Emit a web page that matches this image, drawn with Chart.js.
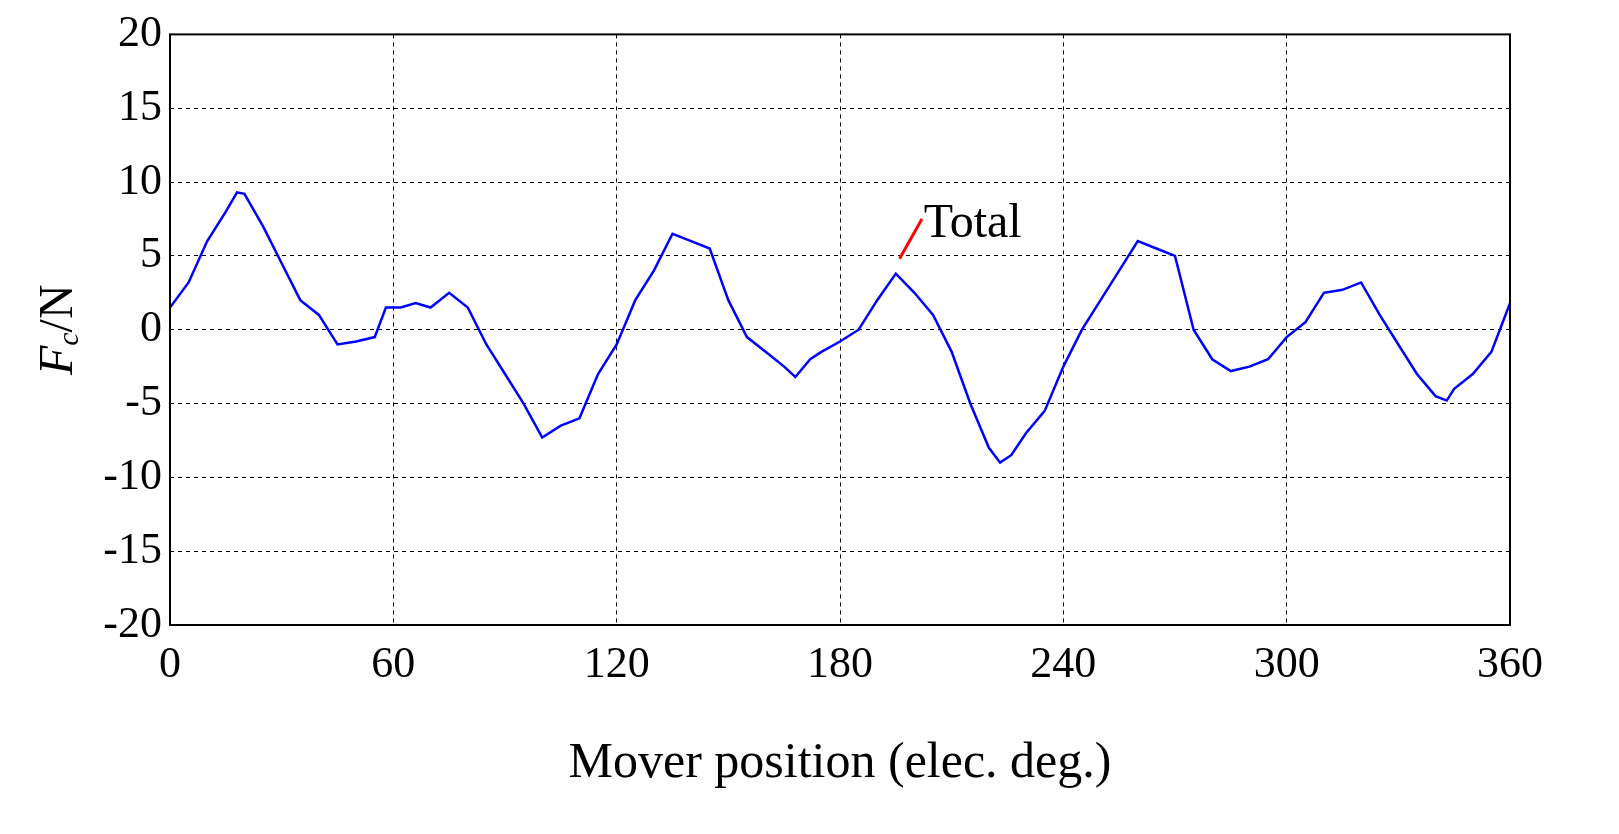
<!DOCTYPE html>
<html>
<head>
<meta charset="utf-8">
<script src="https://cdn.jsdelivr.net/npm/chart.js@4.4.1/dist/chart.umd.min.js"></script>
<style>
  html, body { margin: 0; padding: 0; background: #fff; }
  #wrap { width: 1619px; height: 834px; }
</style>
</head>
<body>
<div id="wrap"><canvas id="chart"></canvas></div>
<script>
// Mover position (elec. deg.) and total force Fc (N)
const positions = [0, 5, 10, 15, 18, 20, 25, 30, 35, 40, 45, 50, 55, 58, 62, 66, 70, 75, 80, 85,
  90, 95, 100, 105, 110, 115, 120, 125, 130, 135, 140, 145, 150, 155, 160, 165, 168, 172, 175, 180,
  185, 190, 195, 200, 205, 210, 215, 220, 223, 226, 230, 235, 240, 245, 250, 255, 260, 265, 270, 275,
  280, 285, 290, 295, 300, 305, 310, 315, 320, 325, 330, 335, 340, 343, 345, 350, 355, 360];
const totalForce = [1.5, 3.2, 6, 8, 9.3, 9.2, 7, 4.5, 2, 1, -1, -0.8, -0.5, 1.5, 1.5, 1.8, 1.5, 2.5, 1.5, -1,
  -3, -5, -7.3, -6.5, -6, -3, -1, 2, 4, 6.5, 6, 5.5, 2, -0.5, -1.5, -2.5, -3.2, -2, -1.5, -0.8,
  0, 2, 3.8, 2.5, 1, -1.5, -5, -8, -9, -8.5, -7, -5.5, -2.5, 0, 2, 4, 6, 5.5, 5, 0,
  -2, -2.8, -2.5, -2, -0.5, 0.5, 2.5, 2.7, 3.2, 1, -1, -3, -4.5, -4.8, -4, -3, -1.5, 1.8];
const xTicks = [0, 60, 120, 180, 240, 300, 360];
const yTicks = [-20, -15, -10, -5, 0, 5, 10, 15, 20];

const serif = '"Liberation Serif", "DejaVu Serif", serif';

const overlay = {
  id: 'overlay',
  afterDraw(chart) {
    const { ctx, chartArea, scales } = chart;
    ctx.save();
    // frame
    ctx.strokeStyle = '#000';
    ctx.lineWidth = 2;
    ctx.strokeRect(chartArea.left, chartArea.top, chartArea.right - chartArea.left, chartArea.bottom - chartArea.top);
    // "Total" label with red leader
    ctx.strokeStyle = '#ff0000';
    ctx.lineWidth = 3;
    ctx.beginPath();
    ctx.moveTo(scales.x.getPixelForValue(196), scales.y.getPixelForValue(4.8));
    ctx.lineTo(scales.x.getPixelForValue(202), scales.y.getPixelForValue(7.5));
    ctx.stroke();
    ctx.fillStyle = '#000';
    ctx.font = '48px ' + serif;
    ctx.textBaseline = 'alphabetic';
    ctx.fillText('Total', scales.x.getPixelForValue(202.5), scales.y.getPixelForValue(6.3));
    // y axis title  F_c/N
    ctx.translate(58, (chartArea.top + chartArea.bottom) / 2);
    ctx.rotate(-Math.PI / 2);
    ctx.font = 'italic 48px ' + serif;
    const wF = ctx.measureText('F').width;
    ctx.font = 'italic 30px ' + serif;
    const wc = ctx.measureText('c').width;
    ctx.font = '48px ' + serif;
    const wN = ctx.measureText('/N').width;
    const x0 = -(wF + wc + wN) / 2;
    ctx.font = 'italic 48px ' + serif;
    ctx.fillText('F', x0, 14);
    ctx.font = 'italic 30px ' + serif;
    ctx.fillText('c', x0 + wF, 20);
    ctx.font = '48px ' + serif;
    ctx.fillText('/N', x0 + wF + wc, 14);
    ctx.restore();
  }
};

new Chart(document.getElementById('chart'), {
  type: 'line',
  data: {
    datasets: [{
      data: positions.map((p, i) => ({ x: p, y: totalForce[i] })),
      borderColor: '#0000ff',
      borderWidth: 2.5,
      pointRadius: 0,
      tension: 0
    }]
  },
  options: {
    responsive: true,
    maintainAspectRatio: false,
    animation: false,
    layout: { padding: { top: 32, right: 109, left: 0, bottom: 40 } },
    plugins: { legend: { display: false }, tooltip: { enabled: false } },
    scales: {
      x: {
        type: 'linear', min: 0, max: 360,
        afterBuildTicks: (s) => { s.ticks = xTicks.map(v => ({ value: v })); },
        afterFit: (s) => { s.height = 169; },
        grid: { color: '#000', lineWidth: 1, drawTicks: false },
        border: { display: false, dash: [4, 4] },
        ticks: { color: '#000', font: { family: serif, size: 44 }, padding: 14, maxRotation: 0 },
        title: { display: true, text: 'Mover position (elec. deg.)', color: '#000',
          font: { family: serif, size: 50 }, padding: { top: 0, bottom: 0 } }
      },
      y: {
        type: 'linear', min: -20, max: 20,
        afterBuildTicks: (s) => { s.ticks = yTicks.map(v => ({ value: v })); },
        afterFit: (s) => { s.width = 170; },
        grid: { color: '#000', lineWidth: 1, drawTicks: false },
        border: { display: false, dash: [4, 4] },
        ticks: { color: '#000', font: { family: serif, size: 44 }, padding: 8 }
      }
    }
  },
  plugins: [overlay]
});
</script>
</body>
</html>
